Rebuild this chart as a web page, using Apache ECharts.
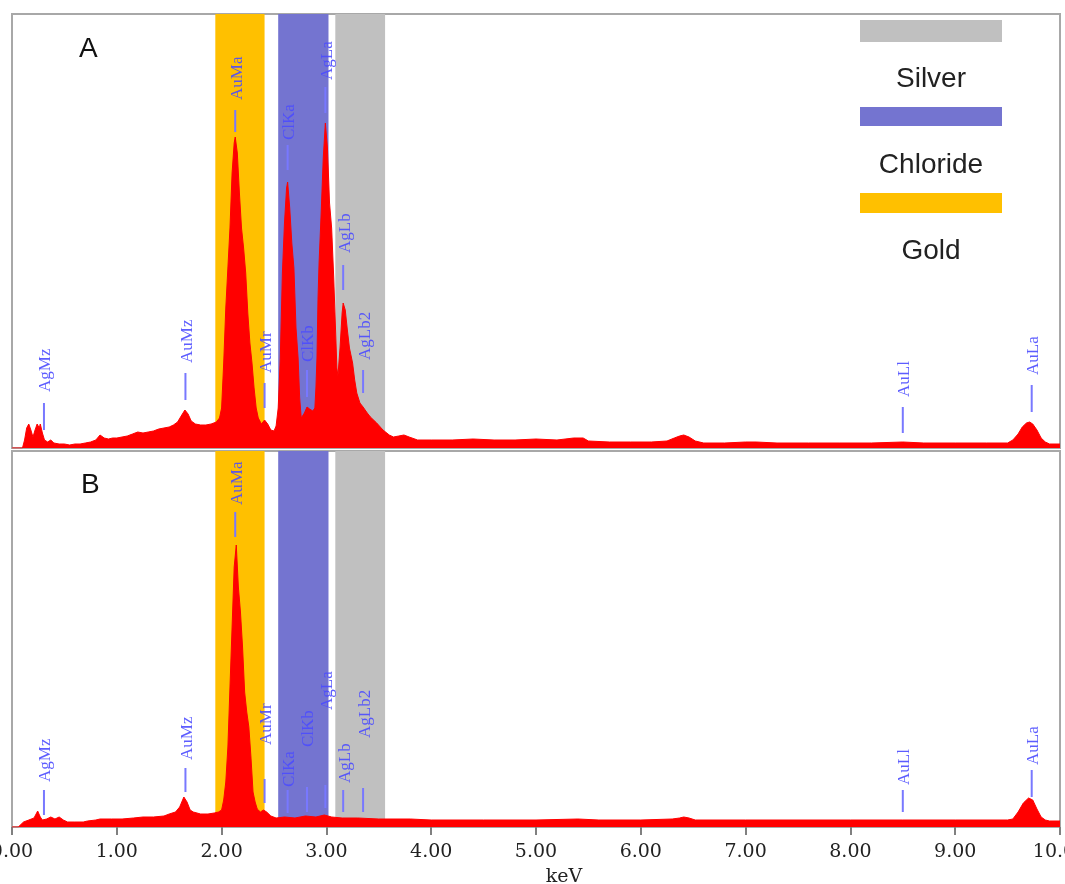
<!DOCTYPE html>
<html>
<head>
<meta charset="utf-8">
<script src="https://cdn.jsdelivr.net/npm/echarts@6/dist/echarts.min.js"></script>
<style>html,body{margin:0;padding:0;background:#fff;}#c{width:1065px;height:884px;}</style>
</head>
<body>
<div id="c"></div>
<script>
// ---- Spectrum A (energy keV, counts) ----
const energiesA = [0.00,0.10,0.12,0.14,0.16,0.18,0.20,0.22,0.24,0.26,0.27,0.29,0.31,0.34,0.37,0.40,0.45,0.50,0.55,0.60,0.65,0.70,0.75,0.80,0.84,0.88,0.92,0.96,1.00,1.05,1.10,1.15,1.20,1.25,1.30,1.35,1.40,1.45,1.50,1.54,1.58,1.62,1.65,1.68,1.71,1.75,1.80,1.85,1.90,1.95,1.98,2.00,2.02,2.04,2.06,2.08,2.10,2.12,2.13,2.15,2.17,2.19,2.21,2.23,2.25,2.27,2.29,2.31,2.33,2.35,2.38,2.41,2.44,2.47,2.50,2.52,2.54,2.56,2.58,2.60,2.62,2.63,2.65,2.67,2.69,2.71,2.73,2.745,2.76,2.79,2.815,2.84,2.87,2.89,2.90,2.91,2.92,2.93,2.95,2.97,2.99,3.01,3.03,3.05,3.07,3.09,3.10,3.11,3.13,3.15,3.16,3.18,3.20,3.22,3.25,3.27,3.29,3.32,3.35,3.39,3.42,3.48,3.54,3.60,3.64,3.69,3.74,3.79,3.87,4.00,4.20,4.40,4.60,4.80,5.00,5.20,5.36,5.45,5.50,5.70,5.90,6.10,6.25,6.32,6.37,6.41,6.46,6.52,6.60,6.80,7.00,7.10,7.30,7.60,7.90,8.20,8.50,8.70,9.00,9.30,9.50,9.55,9.60,9.64,9.68,9.71,9.74,9.78,9.82,9.86,9.90,10.00];
const countsA   = [0,0,8,20,24,18,11,18,24,20,24,15,8,6,8,5,4,4,3,4,4,5,6,8,13,10,9,10,10,11,12,14,16,15,16,17,19,20,21,23,26,33,38,34,27,24,23,23,24,26,30,40,85,140,180,220,275,305,311,295,255,220,200,175,135,105,85,60,40,30,24,28,24,18,17,22,40,90,175,225,260,266,240,205,180,120,90,50,30,35,41,39,37,40,60,90,150,185,235,290,325,300,245,220,170,110,80,72,100,135,145,138,118,100,85,68,55,45,41,35,31,25,18,13,11,12,13,11,8,8,8,9,8,8,9,8,10,10,7,6,6,6,7,10,12,13,11,7,5,5,6,6,5,5,5,5,6,5,5,5,5,8,14,21,25,26,24,18,10,6,4,4];

// ---- Spectrum B ----
const energiesB = [0.00,0.06,0.11,0.16,0.21,0.245,0.27,0.29,0.33,0.37,0.41,0.45,0.49,0.53,0.60,0.68,0.72,0.80,0.84,0.95,1.05,1.16,1.25,1.35,1.45,1.50,1.56,1.60,1.64,1.67,1.70,1.73,1.80,1.87,1.93,1.97,2.00,2.02,2.04,2.06,2.08,2.10,2.12,2.14,2.16,2.18,2.20,2.22,2.24,2.26,2.28,2.30,2.32,2.34,2.37,2.40,2.43,2.47,2.52,2.60,2.70,2.80,2.90,2.98,3.05,3.15,3.30,3.50,3.80,4.00,4.50,5.00,5.40,5.60,6.00,6.30,6.37,6.41,6.46,6.52,7.00,7.50,8.00,8.50,9.00,9.50,9.55,9.60,9.65,9.70,9.74,9.78,9.82,9.86,9.90,10.00];
const countsB   = [0,0,5,7,9,16,10,7,8,10,8,10,7,5,5,5,6,7,8,8,8,9,10,10,11,13,15,20,30,25,17,15,13,13,14,15,17,27,45,80,140,200,260,282,240,215,180,135,115,100,70,35,25,18,15,17,15,11,9,10,9,11,10,12,10,9,9,8,8,7,7,7,8,7,7,8,9,10,9,7,7,7,7,7,7,7,8,15,24,29,27,18,10,7,6,6];

// ---- Peak identification tags ----
const peakNames    = ['AgMz','AuMz','AuMa','AuMr','ClKa','ClKb','AgLa','AgLb','AgLb2','AuLl','AuLa'];
const peakEnergies = [0.305,1.655,2.13,2.41,2.63,2.815,2.99,3.16,3.35,8.50,9.73];
// marker low, marker high, text base (counts units)
const tagLowA  = [18,48,316,40,278,51,335,158,55,15,36];
const tagHighA = [45,75,338,65,303,78,361,183,78,41,63];
const tagTextA = [56,85,348,75,308,86,368,195,88,51,73];
const tagLowB  = [12,35,290,24,14,15,19,15,15,15,30];
const tagHighB = [37,59,315,48,37,40,42,37,39,37,57];
const tagTextB = [45,67,322,82,40,80,117,44,89,42,62];

// ---- Element bands (keV) ----
const bandNames = ['Silver','Chloride','Gold'];
const bandStart = [3.085,2.54,1.94];
const bandEnd   = [3.56,3.02,2.41];
const bandColors = ['#c0c0c0','#7474d0','#ffc000'];

const xTicks = [0,1,2,3,4,5,6,7,8,9,10];

function pairs(e, c){ return e.map((v,i)=>[v,c[i]]); }
function tags(low, high, txt){ return peakNames.map((n,i)=>[peakEnergies[i], low[i], high[i], txt[i], n]); }

const chart = echarts.init(document.getElementById('c'));

function bandSeries(idx){
  return {
    type:'line', xAxisIndex:idx, yAxisIndex:idx, data:[], z:1, silent:true,
    markArea:{silent:true, data: bandNames.map((n,i)=>[
      {xAxis:bandStart[i], itemStyle:{color:bandColors[i], opacity:1}},
      {xAxis:bandEnd[i]}
    ])}
  };
}
function specSeries(idx, data){
  return {
    type:'line', xAxisIndex:idx, yAxisIndex:idx, data:data, z:3,
    showSymbol:false, symbol:'none', smooth:false, animation:false,
    lineStyle:{color:'#ff0000', width:1}, areaStyle:{color:'#ff0000', opacity:1}
  };
}
function tagSeries(idx, data){
  return {
    type:'custom', xAxisIndex:idx, yAxisIndex:idx, data:data, z:5, silent:true,
    renderItem:function(params, api){
      const e = api.value(0);
      const p1 = api.coord([e, api.value(1)]);
      const p2 = api.coord([e, api.value(2)]);
      const pt = api.coord([e, api.value(3)]);
      return {type:'group', children:[
        {type:'line', shape:{x1:p1[0], y1:p1[1], x2:p2[0], y2:p2[1]},
         style:{stroke:'#7878ff', lineWidth:2}},
        {type:'text', x:pt[0]+2, y:pt[1], rotation:Math.PI/2,
         style:{x:0, y:0, text:api.value(4), fill:'#4b4bff', opacity:0.9,
                font:'17px "Liberation Serif", "DejaVu Serif", serif',
                align:'left', verticalAlign:'middle'}}
      ]};
    }
  };
}

const sans = '"Liberation Sans", Arial, sans-serif';
const option = {
  animation:false,
  backgroundColor:'#ffffff',
  grid:[
    {left:12, right:5, top:14, height:434, show:true, borderColor:'#a8a8a8', borderWidth:2, backgroundColor:'transparent', containLabel:false, outerBoundsMode:'none'},
    {left:12, right:5, top:451, height:376, show:true, borderColor:'#a8a8a8', borderWidth:2, backgroundColor:'transparent', containLabel:false, outerBoundsMode:'none'}
  ],
  xAxis:[
    {type:'value', gridIndex:0, min:0, max:10, interval:1, show:false},
    {type:'value', gridIndex:1, min:0, max:10, interval:1,
     axisLine:{show:false}, splitLine:{show:false},
     axisTick:{show:true, inside:false, length:8, lineStyle:{color:'#808080', width:2}},
     axisLabel:{show:true, margin:16, color:'#222', fontSize:19, hideOverlap:false,
       showMinLabel:true, showMaxLabel:true,
       fontFamily:'"DejaVu Serif", "Liberation Serif", serif',
       formatter:function(v){ return xTicks.indexOf(v)>=0 ? v.toFixed(2) : ''; }}
    }
  ],
  yAxis:[
    {type:'value', gridIndex:0, min:0, max:434, show:false, splitLine:{show:false}},
    {type:'value', gridIndex:1, min:0, max:376, show:false, splitLine:{show:false}}
  ],
  series:[
    bandSeries(0), bandSeries(1),
    specSeries(0, pairs(energiesA, countsA)),
    specSeries(1, pairs(energiesB, countsB)),
    tagSeries(0, tags(tagLowA, tagHighA, tagTextA)),
    tagSeries(1, tags(tagLowB, tagHighB, tagTextB))
  ],
  graphic:[
    {type:'text', x:79, y:49, style:{text:'A', font:'28px '+sans, fill:'#111', align:'left', verticalAlign:'middle'}},
    {type:'text', x:81, y:485, style:{text:'B', font:'28px '+sans, fill:'#111', align:'left', verticalAlign:'middle'}},
    {type:'rect', shape:{x:860, y:20, width:142, height:22}, style:{fill:bandColors[0]}},
    {type:'text', x:931, y:79, style:{text:bandNames[0], font:'28px '+sans, fill:'#222', align:'center', verticalAlign:'middle'}},
    {type:'rect', shape:{x:860, y:107, width:142, height:19}, style:{fill:bandColors[1]}},
    {type:'text', x:931, y:165, style:{text:bandNames[1], font:'28px '+sans, fill:'#222', align:'center', verticalAlign:'middle'}},
    {type:'rect', shape:{x:860, y:193, width:142, height:20}, style:{fill:bandColors[2]}},
    {type:'text', x:931, y:251, style:{text:bandNames[2], font:'28px '+sans, fill:'#222', align:'center', verticalAlign:'middle'}},
    {type:'text', x:564, y:877, style:{text:'keV', font:'19px "DejaVu Serif", "Liberation Serif", serif', fill:'#222', align:'center', verticalAlign:'middle'}}
  ]
};
chart.setOption(option);
</script>
</body>
</html>
